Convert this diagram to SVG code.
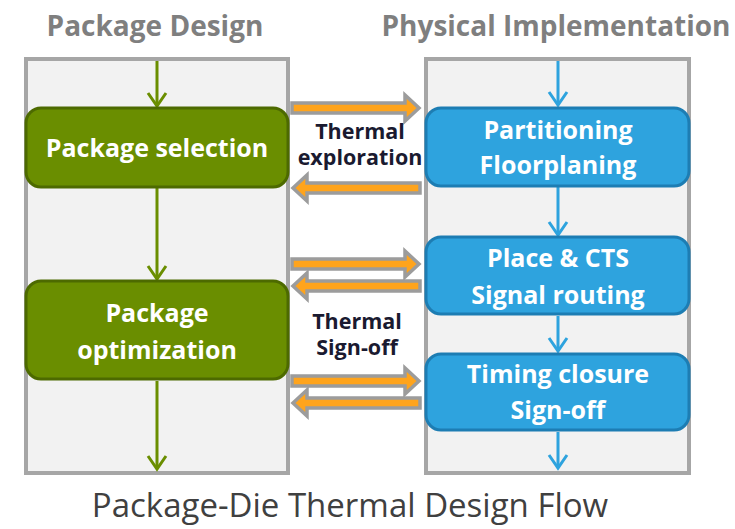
<svg xmlns="http://www.w3.org/2000/svg" width="735" height="529" viewBox="0 0 735 529">
  <style>
    .panel { fill: #f2f2f2; stroke: #a6a6a6; stroke-width: 4; }
    .head { font-family: "Open Sans", "Liberation Sans", sans-serif; font-weight: bold; font-size: 28px; fill: #7f7f7f; text-anchor: middle; }
    .gbox { fill: #6a8e00; stroke: #4d6a00; stroke-width: 3; }
    .bbox { fill: #2ea3de; stroke: #1d7db3; stroke-width: 3; }
    .btxt { font-family: "Open Sans", "Liberation Sans", sans-serif; font-weight: bold; font-size: 25px; fill: #ffffff; text-anchor: middle; }
    .mid { font-family: "Open Sans", "Liberation Sans", sans-serif; font-weight: bold; font-size: 21.5px; fill: #1a1a30; text-anchor: middle; }
    .title { font-family: "Open Sans", "Liberation Sans", sans-serif; font-size: 33px; fill: #404040; text-anchor: middle; }
    .gflow { stroke: #6a8e00; stroke-width: 3; fill: none; }
    .bflow { stroke: #2ea3de; stroke-width: 3; fill: none; }
    .xfer { fill: #ffa41c; stroke: #9c9c9c; stroke-width: 3.5; stroke-linejoin: miter; }
  </style>
  <defs>
    <path id="xferArrow" d="M0,-5 H113 V-13 L127,0 L113,13 V5 H0 Z"/>
  </defs>

  <!-- column headers -->
  <text class="head" x="155" y="36">Package Design</text>
  <text class="head" x="556" y="36">Physical Implementation</text>

  <!-- swimlane panels -->
  <rect class="panel" x="26" y="59" width="262" height="414"/>
  <rect class="panel" x="426" y="59" width="263" height="414"/>

  <!-- flow connectors -->
  <g id="connectors">
    <g class="gflow">
      <line x1="157" y1="61" x2="157" y2="106"/>
      <polyline points="148,93 157,106 166,93"/>
      <line x1="157" y1="188" x2="157" y2="279"/>
      <polyline points="148,266 157,279 166,266"/>
      <line x1="157" y1="381" x2="157" y2="469"/>
      <polyline points="148,456 157,469 166,456"/>
    </g>
    <g class="bflow">
      <line x1="558" y1="61" x2="558" y2="105"/>
      <polyline points="549,92 558,105 567,92"/>
      <line x1="558" y1="187" x2="558" y2="235"/>
      <polyline points="549,222 558,235 567,222"/>
      <line x1="558" y1="316" x2="558" y2="351"/>
      <polyline points="549,338 558,351 567,338"/>
      <line x1="558" y1="432" x2="558" y2="468"/>
      <polyline points="549,455 558,468 567,455"/>
    </g>
    <!-- thermal exchange arrows -->
    <use href="#xferArrow" class="xfer" transform="translate(292,108)"/>
    <use href="#xferArrow" class="xfer" transform="translate(420,188) scale(-1,1)"/>
    <use href="#xferArrow" class="xfer" transform="translate(292,264)"/>
    <use href="#xferArrow" class="xfer" transform="translate(420,286) scale(-1,1)"/>
    <use href="#xferArrow" class="xfer" transform="translate(292,381)"/>
    <use href="#xferArrow" class="xfer" transform="translate(420,403) scale(-1,1)"/>
  </g>

  <!-- package side -->
  <g id="package-selection">
    <rect class="gbox" x="26" y="108" width="262" height="79" rx="15"/>
    <text class="btxt" x="157" y="157">Package selection</text>
  </g>
  <g id="package-optimization">
    <rect class="gbox" x="26" y="281" width="262" height="98" rx="15"/>
    <text class="btxt" x="157" y="322">Package</text>
    <text class="btxt" x="157" y="359">optimization</text>
  </g>

  <!-- implementation side -->
  <g id="partitioning">
    <rect class="bbox" x="426" y="108" width="263" height="78" rx="15"/>
    <text class="btxt" x="558" y="139">Partitioning</text>
    <text class="btxt" x="558" y="174">Floorplaning</text>
  </g>
  <g id="place-route">
    <rect class="bbox" x="426" y="237" width="263" height="77" rx="15"/>
    <text class="btxt" x="558" y="267">Place &amp; CTS</text>
    <text class="btxt" x="558" y="304">Signal routing</text>
  </g>
  <g id="timing">
    <rect class="bbox" x="426" y="354" width="263" height="76" rx="15"/>
    <text class="btxt" x="558" y="383">Timing closure</text>
    <text class="btxt" x="558" y="419">Sign-off</text>
  </g>

  <!-- exchange labels -->
  <g id="thermal-exploration">
    <text class="mid" x="360" y="139">Thermal</text>
    <text class="mid" x="360" y="165">exploration</text>
  </g>
  <g id="thermal-signoff">
    <text class="mid" x="357" y="329">Thermal</text>
    <text class="mid" x="357" y="355">Sign-off</text>
  </g>

  <text class="title" x="350" y="517">Package-Die Thermal Design Flow</text>
</svg>
